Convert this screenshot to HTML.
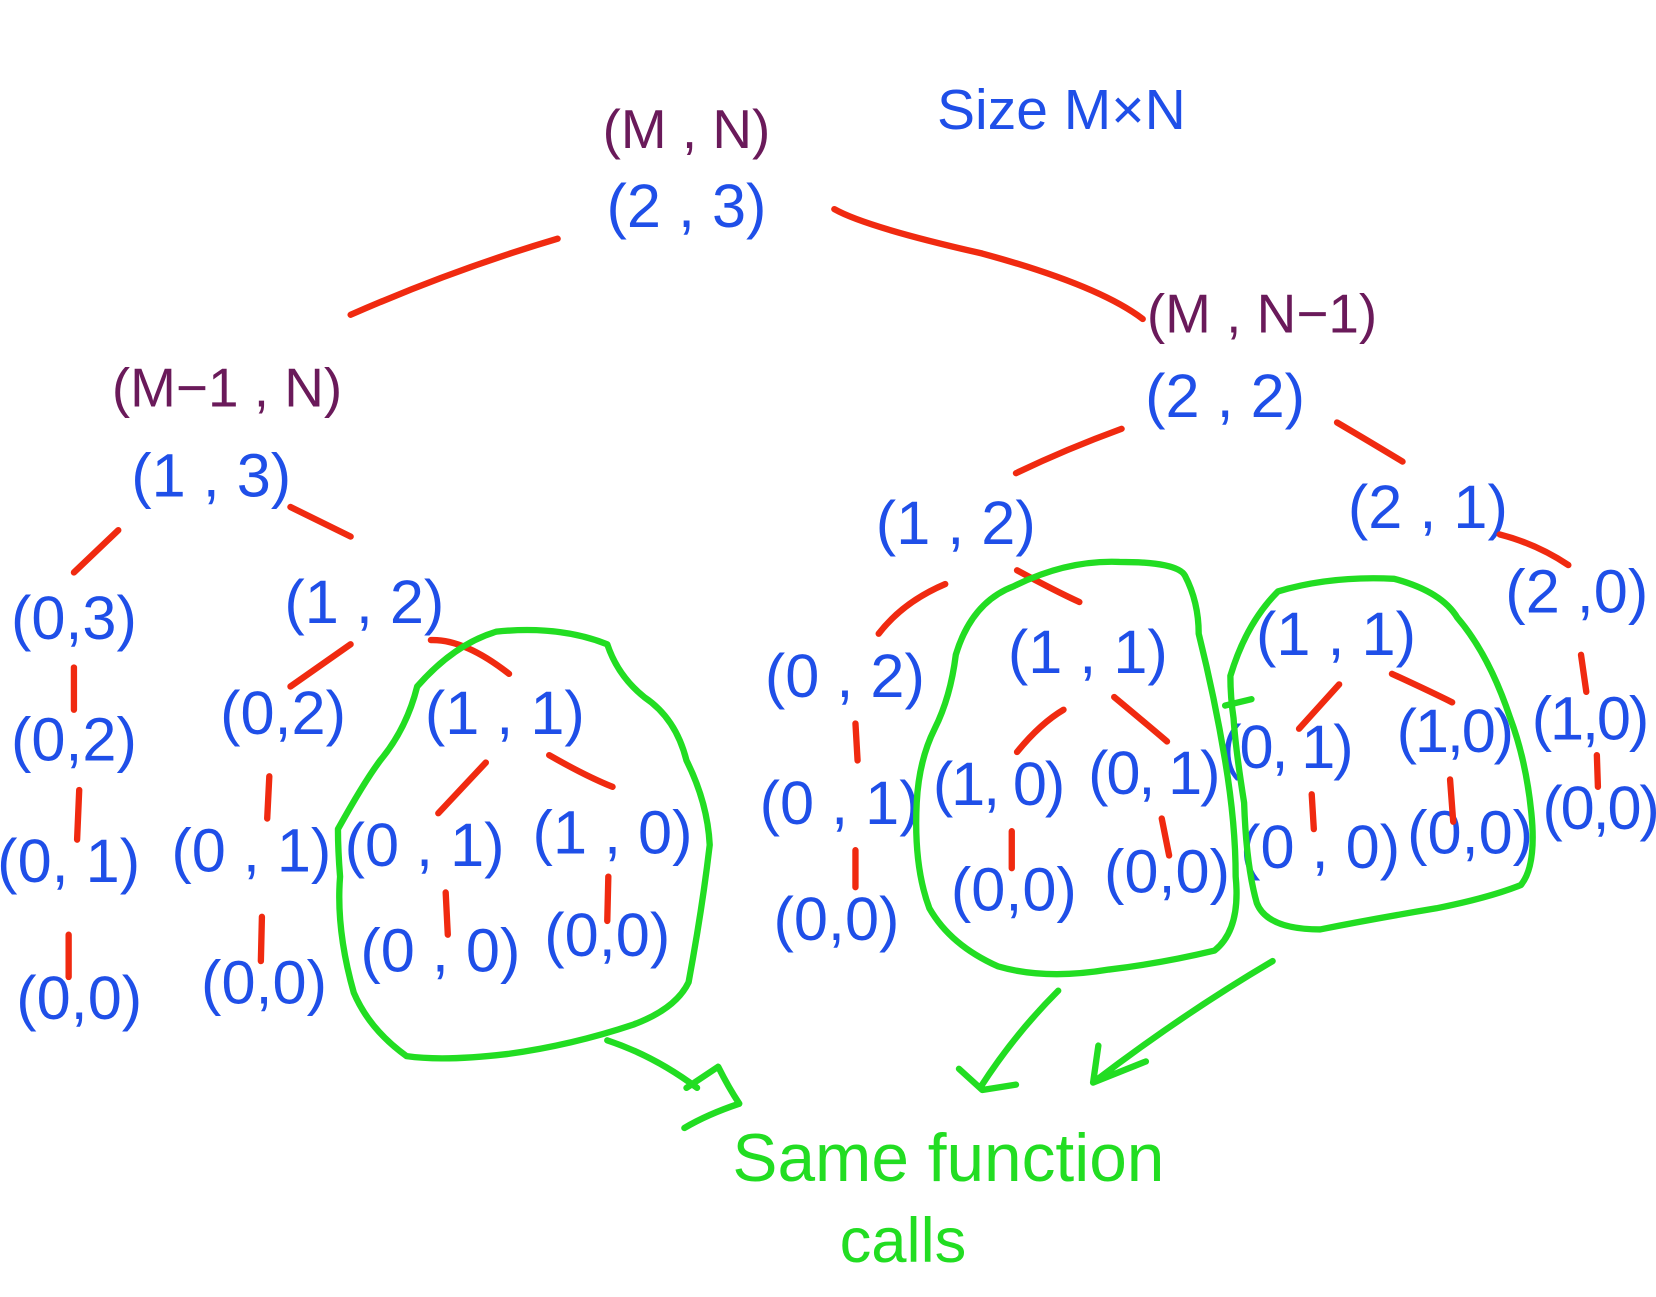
<!DOCTYPE html>
<html><head><meta charset="utf-8"><style>
html,body{margin:0;padding:0;background:#fff;}
svg{display:block}
text{font-family:"Liberation Sans",sans-serif;text-anchor:middle;}
.b{fill:#1f4fe8;font-size:58px;}
.p{fill:#6a1a5a;font-size:52px;}
.r{stroke:#f02a10;stroke-width:6;fill:none;stroke-linecap:round;}
.g{stroke:#22dd22;stroke-width:6;fill:none;stroke-linecap:round;stroke-linejoin:round;}
.n{letter-spacing:-2px}
</style></head><body>
<svg width="1656" height="1297" viewBox="0 0 1568 1228" xmlns="http://www.w3.org/2000/svg">
<text class="p" x="650" y="140">(M , N)</text>
<text class="b" x="1005" y="122" style="font-size:54px">Size  M×N</text>
<text class="b" x="650" y="215">(2 , 3)</text>
<text class="p" x="1195" y="315">(M , N−1)</text>
<text class="b" x="1160" y="395">(2 , 2)</text>
<text class="p" x="215" y="385">(M−1 , N)</text>
<text class="b" x="200" y="470">(1 , 3)</text>

<g class="b">
<text x="70" y="605">(0,3)</text>
<text x="345" y="590">(1 , 2)</text>
<text x="70" y="720">(0,2)</text>
<text x="268" y="695">(0,2)</text>
<text x="65" y="835">(0, 1)</text>
<text x="238" y="825">(0 , 1)</text>
<text x="75" y="965">(0,0)</text>
<text x="250" y="950">(0,0)</text>
<text x="478" y="695">(1 , 1)</text>
<text x="402" y="820">(0 , 1)</text>
<text x="580" y="808">(1 , 0)</text>
<text x="417" y="920">(0 , 0)</text>
<text x="575" y="905">(0,0)</text>

<text x="905" y="515">(1 , 2)</text>
<text x="1352" y="500">(2 , 1)</text>
<text x="800" y="660">(0 , 2)</text>
<text x="1030" y="637">(1 , 1)</text>
<text x="1265" y="620">(1 , 1)</text>
<text x="1493" y="580">(2 ,0)</text>
<text x="795" y="780">(0 , 1)</text>
<text class="n" x="945" y="762">(1, 0)</text>
<text class="n" x="1092" y="752">(0, 1)</text>
<text x="792" y="890">(0,0)</text>
<text x="960" y="862">(0,0)</text>
<text x="1105" y="845">(0,0)</text>
<text class="n" x="1218" y="727">(0, 1)</text>
<text class="n" x="1377" y="712">(1,0)</text>
<text class="n" x="1505" y="700">(1,0)</text>
<text x="1250" y="822">(0 , 0)</text>
<text x="1392" y="808">(0,0)</text>
<text class="n" x="1515" y="785">(0,0)</text>
</g>

<g class="r">
<path d="M528 226 Q430 255 332 298"/>
<path d="M790 198 Q820 215 930 240 Q1040 270 1082 302"/>
<path d="M112 502 L70 542"/>
<path d="M275 480 L332 508"/>
<path d="M70 632 L70 672"/>
<path d="M75 748 L73 795"/>
<path d="M65 885 L65 925"/>
<path d="M332 610 L275 650"/>
<path d="M255 735 L253 775"/>
<path d="M248 868 L247 910"/>
<path d="M408 606 Q440 605 482 638"/>
<path d="M460 722 L415 770"/>
<path d="M520 715 Q555 735 580 745"/>
<path d="M422 845 L424 885"/>
<path d="M576 830 L575 872"/>
<path d="M1062 406 Q1010 425 962 448"/>
<path d="M1266 400 Q1300 420 1328 437"/>
<path d="M895 553 Q855 570 832 600"/>
<path d="M963 540 Q1000 560 1022 570"/>
<path d="M1420 506 Q1455 515 1485 535"/>
<path d="M810 685 L812 720"/>
<path d="M810 805 L810 840"/>
<path d="M1007 672 Q985 685 963 712"/>
<path d="M1055 660 Q1085 685 1105 702"/>
<path d="M958 787 L958 822"/>
<path d="M1100 775 L1107 810"/>
<path d="M1268 648 L1230 690"/>
<path d="M1318 638 Q1355 655 1375 665"/>
<path d="M1242 752 L1244 785"/>
<path d="M1373 738 L1376 778"/>
<path d="M1497 620 L1502 655"/>
<path d="M1512 715 L1513 745"/>
</g>

<g class="g">
<path d="M320 785 Q345 740 360 720 Q385 690 395 650 Q430 610 470 598 Q530 592 575 610 Q585 640 610 660 Q640 680 650 720 Q670 760 672 800 Q665 860 652 930 Q640 955 600 970 Q540 990 480 998 Q420 1005 385 1000 Q350 975 335 940 Q318 880 322 830 Q320 805 320 785"/>
<path d="M885 690 Q900 660 905 620 Q920 570 960 555 Q1010 530 1060 532 Q1115 532 1122 545 Q1135 570 1135 600 Q1150 660 1160 720 Q1170 780 1170 830 Q1175 880 1150 900 Q1100 912 1050 918 Q990 928 945 915 Q900 895 880 860 Q865 820 868 760 Q870 720 885 690"/>
<path d="M1165 640 Q1180 590 1210 560 Q1260 545 1320 548 Q1365 560 1380 585 Q1410 620 1430 680 Q1445 720 1450 770 Q1455 820 1440 838 Q1410 850 1360 860 Q1300 870 1250 880 Q1200 880 1190 855 Q1180 820 1178 760 Q1170 710 1168 680 Q1165 660 1165 640"/>
<path d="M575 985 Q620 1000 660 1030 M650 1030 L680 1010 Q690 1030 700 1045 Q670 1055 648 1068"/>
<path d="M1002 938 Q960 980 928 1030 M908 1012 L930 1032 L962 1027"/>
<path d="M1205 910 Q1120 960 1035 1025 M1040 990 L1035 1025 L1085 1005"/>
<path d="M1185 662 L1160 668"/>
</g>
<text x="898" y="1118" style="fill:#22dd22;font-size:64px;">Same function</text>
<text x="855" y="1195" style="fill:#22dd22;font-size:60px;">calls</text>
</svg>
</body></html>
